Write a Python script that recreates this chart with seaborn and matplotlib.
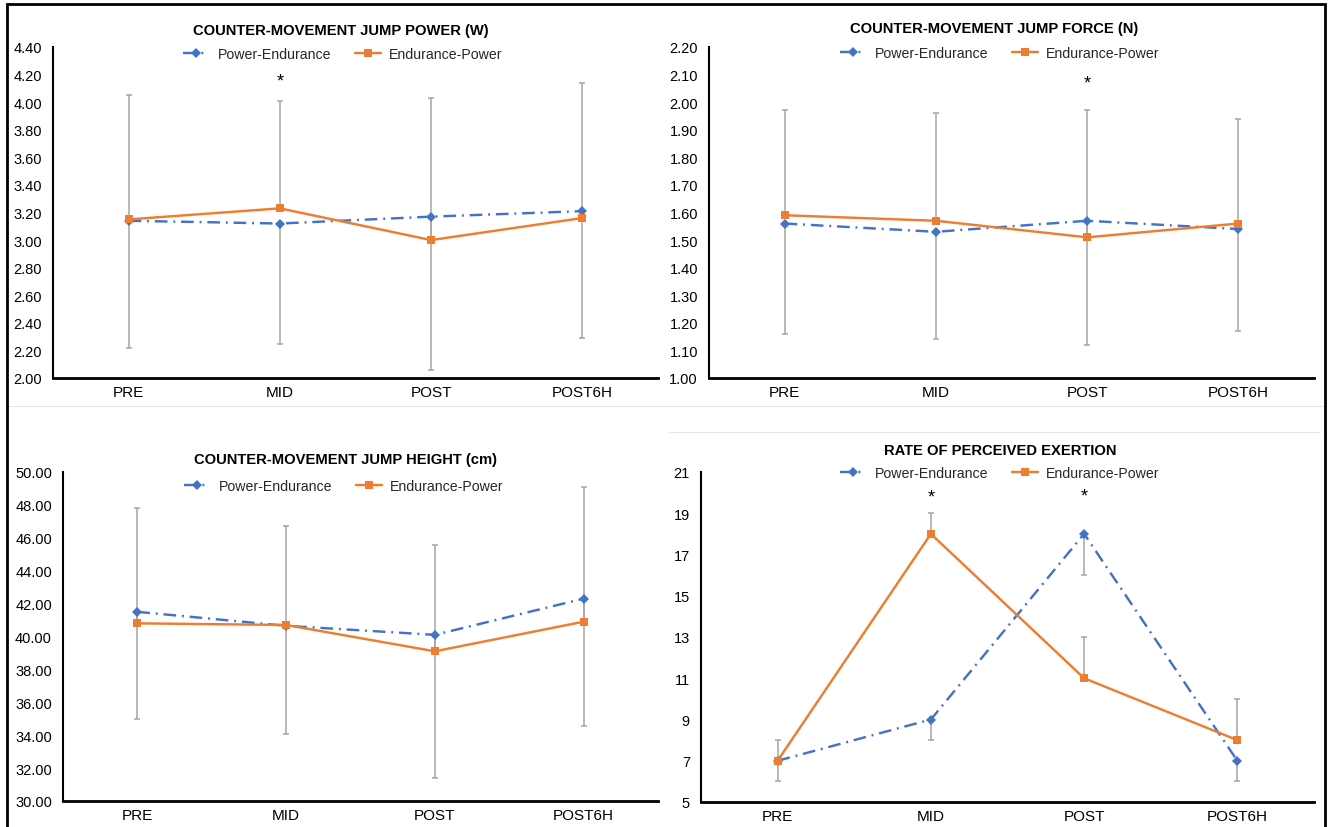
import numpy as np
import pandas as pd
import matplotlib
matplotlib.use("Agg")
import matplotlib.pyplot as plt
from matplotlib.lines import Line2D
import seaborn as sns

# ---- data -------------------------------------------------------------
timepoints = ["PRE", "MID", "POST", "POST6H"]
groups = ["Power-Endurance", "Endurance-Power"]

# Counter-movement jump power (W)
power_pe = [3.14, 3.12, 3.17, 3.21]
power_ep = [3.15, 3.23, 3.00, 3.16]
power_pe_sd = [0.92, 0.87, 1.11, 0.92]   # shown below the mean
power_ep_sd = [0.90, 0.78, 1.03, 0.98]   # shown above the mean

# Counter-movement jump force (N)
force_pe = [1.56, 1.53, 1.57, 1.54]
force_ep = [1.59, 1.57, 1.51, 1.56]
force_pe_sd = [0.40, 0.39, 0.45, 0.37]
force_ep_sd = [0.38, 0.39, 0.46, 0.38]

# Counter-movement jump height (cm)
height_pe = [41.5, 40.65, 40.1, 42.3]
height_ep = [40.8, 40.7, 39.1, 40.9]
height_pe_sd = [6.52, 6.6, 8.68, 7.72]
height_ep_sd = [7.03, 6.02, 6.47, 8.17]

# Rate of perceived exertion
rpe_pe = [7, 9, 18, 7]
rpe_ep = [7, 18, 11, 8]
rpe_pe_sd = [1, 1, 2, 1]
rpe_ep_sd = [1, 1, 2, 2]

titles = ["COUNTER-MOVEMENT JUMP POWER (W)", "COUNTER-MOVEMENT JUMP FORCE (N)",
          "COUNTER-MOVEMENT JUMP HEIGHT (cm)", "RATE OF PERCEIVED EXERTION"]
y_ticks = [np.round(np.arange(2.0, 4.41, 0.2), 2),
           np.round(np.arange(1.0, 2.21, 0.1), 2),
           np.arange(30, 51, 2),
           np.arange(5, 22, 2)]
y_fmt = ["{:.2f}", "{:.2f}", "{:.2f}", "{:.0f}"]
star_marks = [[(1, 4.15)], [(2, 2.07)], [], [(1, 19.8), (2, 19.85)]]

# ---- style ------------------------------------------------------------
sns.set_theme(style="white")
plt.rcParams["font.family"] = ["Liberation Sans", "DejaVu Sans"]

BLUE = "#4472C4"
ORANGE = "#ED7D31"
GREY = "#A6A6A6"
PE_DASH = (5.2, 2.4, 0.8, 2.4)
LW = 1.75

W, H = 1328, 828
fig = plt.figure(figsize=(W / 100, H / 100), dpi=100)

# axes boxes in pixels: left, right, top, bottom
boxes = [(53, 658, 48, 379), (709, 1314, 48, 379),
         (63, 658, 473, 802), (701, 1314, 473, 803)]
title_pos = [(341, 31), (994, 29), (346, 460), (1000, 451)]
legend_pos = [(343, 55), (1000, 54), (344, 487), (1000, 474)]

panels = [(power_pe, power_ep, power_pe_sd, power_ep_sd),
          (force_pe, force_ep, force_pe_sd, force_ep_sd),
          (height_pe, height_ep, height_pe_sd, height_ep_sd),
          (rpe_pe, rpe_ep, rpe_pe_sd, rpe_ep_sd)]

for i, (pe, ep, pe_sd, ep_sd) in enumerate(panels):
    l, r, t, b = boxes[i]
    ax = fig.add_axes([l / W, 1 - b / H, (r - l) / W, (b - t) / H])

    df = pd.DataFrame({
        "time": timepoints * 2,
        "value": list(pe) + list(ep),
        "group": [groups[0]] * 4 + [groups[1]] * 4,
    })
    xs = np.arange(len(timepoints))
    zeros = np.zeros(len(timepoints))

    # one-sided SD bars: Power-Endurance downward, Endurance-Power upward
    ax.errorbar(xs, pe, yerr=[pe_sd, zeros], fmt="none", ecolor=GREY,
                elinewidth=1.1, capsize=2.5, capthick=1.1, zorder=1)
    ax.errorbar(xs, ep, yerr=[zeros, ep_sd], fmt="none", ecolor=GREY,
                elinewidth=1.1, capsize=2.5, capthick=1.1, zorder=1)

    sns.lineplot(data=df[df.group == groups[0]], x="time", y="value", ax=ax,
                 color=BLUE, lw=LW, marker="D", markersize=5,
                 markeredgewidth=0, zorder=2, legend=False)
    ax.lines[-1].set_dashes(PE_DASH)
    sns.lineplot(data=df[df.group == groups[1]], x="time", y="value", ax=ax,
                 color=ORANGE, lw=LW, marker="s", markersize=6.2,
                 markeredgewidth=0, zorder=3, legend=False)

    ax.set_xlim(-0.5, 3.5)
    ax.set_ylim(y_ticks[i][0], y_ticks[i][-1])
    ax.set_xticks(xs)
    ax.set_xticklabels(timepoints)
    ax.set_yticks(y_ticks[i])
    ax.set_yticklabels([y_fmt[i].format(v) for v in y_ticks[i]])
    ax.set_xlabel("")
    ax.set_ylabel("")
    ax.tick_params(axis="x", length=0, pad=5, labelsize=11, colors="black")
    ax.tick_params(axis="y", length=0, pad=8, labelsize=10.5, colors="black")
    for side in ("top", "right"):
        ax.spines[side].set_visible(False)
    ax.spines["left"].set_color("black")
    ax.spines["left"].set_linewidth(1.5)
    ax.spines["bottom"].set_color("black")
    ax.spines["bottom"].set_linewidth(2)
    ax.patch.set_alpha(0)

    for (sx, sy) in star_marks[i]:
        ax.text(sx, sy, "*", ha="center", va="center", fontsize=13,
                color="black")

    tx, ty = title_pos[i]
    fig.text(tx / W, 1 - ty / H, titles[i], ha="center", va="center",
             fontsize=10.6, fontweight="bold", color="black")

    handles = [
        Line2D([], [], color=BLUE, lw=LW, marker="D", markersize=5,
               markeredgewidth=0, dashes=PE_DASH),
        Line2D([], [], color=ORANGE, lw=LW, marker="s", markersize=6.2,
               markeredgewidth=0),
    ]
    lx, ly = legend_pos[i]
    ax.legend(handles, groups, loc="center", ncol=2, frameon=False,
              bbox_to_anchor=(lx / W, 1 - ly / H),
              bbox_transform=fig.transFigure, fontsize=10.2,
              handlelength=1.8, handletextpad=0.6, columnspacing=1.7,
              borderpad=0, borderaxespad=0)

# thin separators between panels
fig.add_artist(Line2D([7 / W, 1325 / W], [1 - 407 / H, 1 - 407 / H],
                      color="#E4E4E4", lw=0.8))
fig.add_artist(Line2D([669 / W, 1320 / W], [1 - 433 / H, 1 - 433 / H],
                      color="#E4E4E4", lw=0.8))

# outer frame
fig.add_artist(Line2D([7 / W, 7 / W, 1325 / W, 1325 / W],
                      [0, 1 - 5 / H, 1 - 5 / H, 0],
                      color="black", lw=2, solid_joinstyle="miter"))

fig.savefig("out.png", dpi=100, facecolor="white")
